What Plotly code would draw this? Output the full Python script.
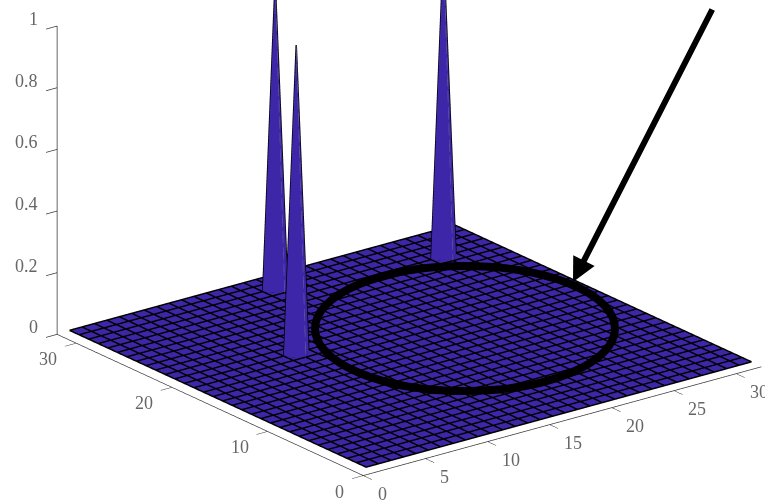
import plotly.graph_objects as go

grid_x = list(range(1, 33))
grid_y = list(range(1, 33))
floor_z = [[0 for _ in grid_x] for _ in grid_y]
peak_x = [16, 10, 28]
peak_y = [30, 20, 28]
peak_z = [1, 1, 1]
x_ticks = [0, 5, 10, 15, 20, 25, 30]
y_ticks = [0, 10, 20, 30]
z_ticks = [0, 0.2, 0.4, 0.6, 0.8, 1]

BLUE = "#3e26a8"
W, H = 765, 500
LIFT = 0.002
FONT = dict(family="Liberation Serif", size=18, color="#666666")
FLAT = dict(ambient=1, diffuse=0, specular=0, roughness=1, fresnel=0)

def axis(rng, ticks):
    return dict(range=rng, tickvals=ticks, showticklabels=False, title=dict(text=""),
                showgrid=False, zeroline=False, showbackground=False, showspikes=False,
                showline=True, linecolor="#333333", linewidth=1.5, ticks="outside", ticklen=14,
                tickcolor="#333333", tickwidth=1.5)

fig = go.Figure(go.Surface(
    x=grid_x, y=grid_y, z=floor_z, cmin=0, cmax=1,
    colorscale=[[0, BLUE], [1, BLUE]], showscale=False, hoverinfo="skip",
    lighting=FLAT,
))

# Grid of the surface, drawn along every row and column.
line_x, line_y, line_z = [], [], []
for xv in grid_x:
    for yv in grid_y:
        line_x.append(xv); line_y.append(yv); line_z.append(LIFT)
    line_x.append(None); line_y.append(None); line_z.append(None)
for yv in grid_y:
    for xv in grid_x:
        line_x.append(xv); line_y.append(yv); line_z.append(LIFT)
    line_x.append(None); line_y.append(None); line_z.append(None)
fig.add_trace(go.Scatter3d(x=line_x, y=line_y, z=line_z, mode="lines",
                           line=dict(color="black", width=3), hoverinfo="skip"))

# Each spike rises from one grid vertex and falls to its four neighbours.
for xp, yp, zp in zip(peak_x, peak_y, peak_z):
    vx = [xp, xp - 1, xp, xp + 1, xp]
    vy = [yp, yp, yp - 1, yp, yp + 1]
    vz = [zp, 0, 0, 0, 0]
    fig.add_trace(go.Mesh3d(x=vx, y=vy, z=vz, i=[0, 0, 0, 0], j=[1, 2, 3, 4], k=[2, 3, 4, 1],
                            color=BLUE, flatshading=True, lighting=FLAT, hoverinfo="skip"))
    fig.add_trace(go.Scatter3d(x=[vx[1], vx[0], vx[3], None, vx[1], vx[2], vx[3]],
                               y=[vy[1], vy[0], vy[3], None, vy[1], vy[2], vy[3]],
                               z=[vz[1], vz[0], vz[3], None, vz[1], vz[2], vz[3]],
                               mode="lines", line=dict(color="black", width=3), hoverinfo="skip"))
    fig.add_trace(go.Scatter3d(x=[vx[2], vx[0]], y=[vy[2], vy[0]], z=[vz[2], vz[0]],
                               mode="lines", line=dict(color="#77728f", width=1), hoverinfo="skip"))

def px(x):
    return x / W

def py(y):
    return 1 - y / H

labels = []
for t in x_ticks:
    labels.append(dict(x=t, y=0, z=0, text=str(t), showarrow=False, font=FONT,
                       xshift=19 if t < 10 else 23, yshift=-18))
for t in y_ticks:
    labels.append(dict(x=0, y=t, z=0, text=str(t), showarrow=False, font=FONT,
                       xshift=-24 if t == 0 else -28, yshift=-16))
for t in z_ticks:
    labels.append(dict(x=0, y=32, z=t, text=str(t), showarrow=False, font=FONT,
                       xanchor="right", xshift=-17, yshift=7))

fig.update_layout(
    width=W, height=H, margin=dict(l=0, r=0, t=0, b=0),
    paper_bgcolor="white", showlegend=False,
    scene=dict(
        domain=dict(x=[0, 1], y=[0, 1]),
        xaxis=axis([0, 32], x_ticks),
        yaxis=axis([0, 32], y_ticks),
        zaxis=axis([0, 1], z_ticks),
        aspectmode="manual",
        aspectratio=dict(x=2.008, y=2.008, z=1.319),
        camera=dict(
            projection=dict(type="orthographic"),
            eye=dict(x=-1.795, y=-2.158, z=0.836),
            center=dict(x=-0.0843, y=0.0649, z=-0.229),
            up=dict(x=0, y=0, z=1),
        ),
        annotations=labels,
    ),
    shapes=[dict(type="circle", xref="paper", yref="paper",
                 x0=px(315), x1=px(615), y0=py(391), y1=py(266),
                 line=dict(color="black", width=8))],
    annotations=[dict(x=px(573), y=py(282), xref="paper", yref="paper", text="",
                      ax=713-573, ay=8-282, axref="pixel", ayref="pixel",
                      showarrow=True, arrowhead=2, arrowsize=0.8, arrowwidth=6, arrowcolor="black")],
)
fig.write_html("out.html", post_script="document.body.style.margin='0';", config=dict(displayModeBar=False))
